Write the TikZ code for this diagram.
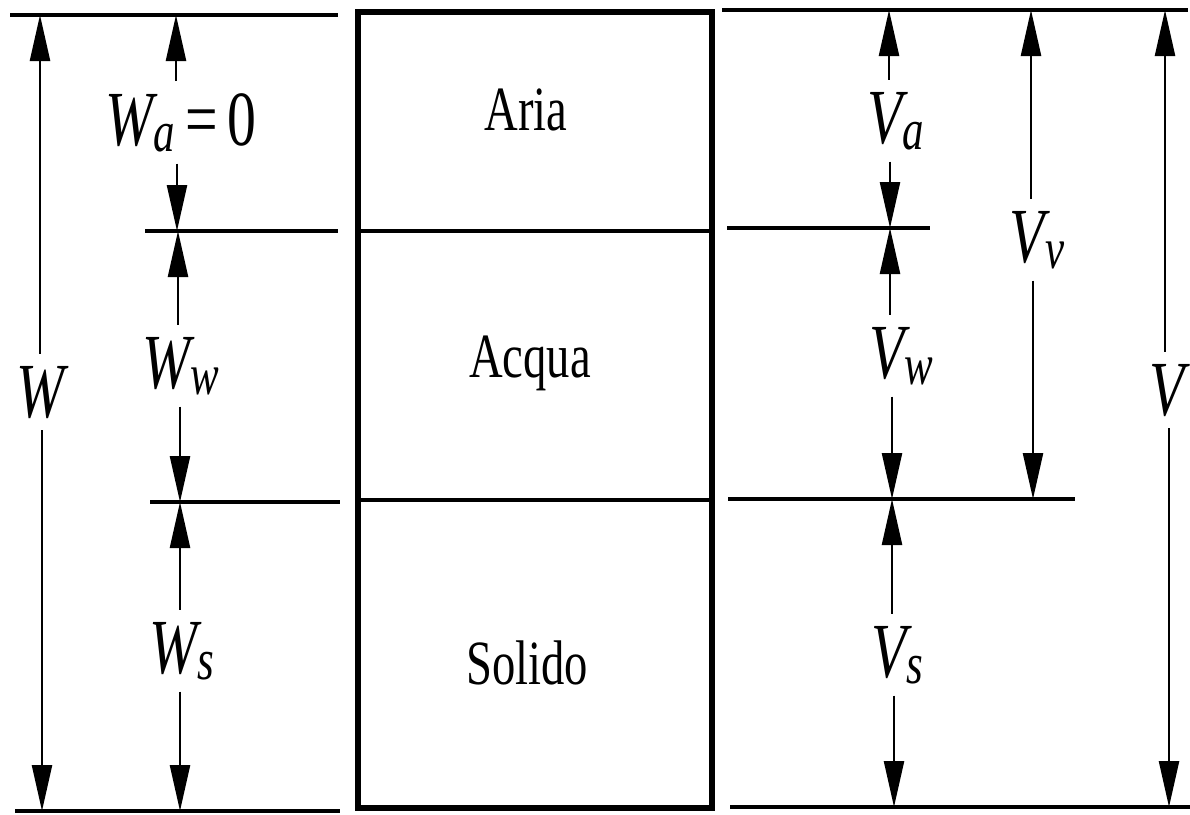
\documentclass[tikz,border=0pt]{standalone}
\usepackage{fontspec}
\setmainfont{Liberation Serif}
\usetikzlibrary{arrows.meta}
\newcommand\subsc[1]{\raisebox{-6pt}{\fontsize{58}{58}\selectfont #1}}
\newcommand\nsq[1]{\scalebox{0.74}[1]{#1}}
\begin{document}
\begin{tikzpicture}[x=1pt,y=-1pt,
  ext/.style={line width=3.8pt},
  boxline/.style={line width=6pt},
  sepline/.style={line width=4.2pt},
  dim/.style={line width=2.4pt,-{Triangle[length=46pt,width=20pt]}},
  dimlab/.style={inner sep=0pt,outer ysep=12pt,font=\fontsize{78}{80}\selectfont\itshape,anchor=base},
  phase/.style={inner sep=0pt,font=\fontsize{63}{66}\selectfont,anchor=base}]
\useasboundingbox (0,0) rectangle (1190,814);

% ---- soil column ----
\draw[boxline] (358,12) rectangle (712,808);
\draw[sepline] (358,231) -- (712,231);
\draw[sepline] (358,500) -- (712,500);
\node[phase] (aria) at (526,130) {\nsq{Aria}};
\node[phase] (acqua) at (530,377) {\nsq{Acqua}};
\node[phase] (solido) at (527,684) {\nsq{Solido}};

% ---- left extension lines ----
\coordinate (la1) at (10,15);  \coordinate (la2) at (338,15);
\coordinate (lb1) at (145,231); \coordinate (lb2) at (338,231);
\coordinate (lc1) at (150,502); \coordinate (lc2) at (340,502);
\coordinate (ld1) at (15,811);  \coordinate (ld2) at (340,811);
\draw[ext] (la1) -- (la2);
\draw[ext] (lb1) -- (lb2);
\draw[ext] (lc1) -- (lc2);
\draw[ext] (ld1) -- (ld2);

% ---- right extension lines ----
\coordinate (ra1) at (722,10);  \coordinate (ra2) at (1188,10);
\coordinate (rb1) at (727,228); \coordinate (rb2) at (930,228);
\coordinate (rc1) at (728,499); \coordinate (rc2) at (1075,499);
\coordinate (rd1) at (730,807); \coordinate (rd2) at (1190,807);
\draw[ext] (ra1) -- (ra2);
\draw[ext] (rb1) -- (rb2);
\draw[ext] (rc1) -- (rc2);
\draw[ext] (rd1) -- (rd2);

% ---- W ----
\coordinate (w1) at (40,15); \coordinate (w2) at (42,811);
\node[dimlab] (W) at (41,417) {\nsq{W}};
\draw[dim] (W.north -| w1) -- (w1);
\draw[dim] (W.south -| w2) -- (w2);

% ---- Wa ----
\coordinate (wa1) at (176,15); \coordinate (wa2) at (177,231);
\node[dimlab] (Wa) at (181,145) {\nsq{W\subsc{a}\,{\upshape =\,0}}};
\draw[dim] (Wa.north -| wa1) -- (wa1);
\draw[dim] (Wa.south -| wa2) -- (wa2);

% ---- Ww ----
\coordinate (ww1) at (178,231); \coordinate (ww2) at (180,502);
\node[dimlab] (Ww) at (181,388) {\nsq{W\subsc{w}}};
\draw[dim] (Ww.north -| ww1) -- (ww1);
\draw[dim] (Ww.south -| ww2) -- (ww2);

% ---- Ws ----
\coordinate (ws1) at (180,502); \coordinate (ws2) at (180,811);
\node[dimlab] (Ws) at (182,673) {\nsq{W\subsc{s}}};
\draw[dim] (Ws.north -| ws1) -- (ws1);
\draw[dim] (Ws.south -| ws2) -- (ws2);

% ---- Va ----
\coordinate (va1) at (889,10); \coordinate (va2) at (890,228);
\node[dimlab] (Va) at (896,143) {\nsq{V\subsc{a}}};
\draw[dim] (Va.north -| va1) -- (va1);
\draw[dim] (Va.south -| va2) -- (va2);

% ---- Vv ----
\coordinate (vv1) at (1031,10); \coordinate (vv2) at (1033,499);
\node[dimlab] (Vv) at (1037,262) {\nsq{V\subsc{v}}};
\draw[dim] (Vv.north -| vv1) -- (vv1);
\draw[dim] (Vv.south -| vv2) -- (vv2);

% ---- Vw ----
\coordinate (vw1) at (890,228); \coordinate (vw2) at (892,499);
\node[dimlab] (Vw) at (901,378) {\nsq{V\subsc{w}}};
\draw[dim] (Vw.north -| vw1) -- (vw1);
\draw[dim] (Vw.south -| vw2) -- (vw2);

% ---- Vs ----
\coordinate (vs1) at (892,499); \coordinate (vs2) at (894,807);
\node[dimlab] (Vs) at (897,677) {\nsq{V\subsc{s}}};
\draw[dim] (Vs.north -| vs1) -- (vs1);
\draw[dim] (Vs.south -| vs2) -- (vs2);

% ---- V ----
\coordinate (v1) at (1165,10); \coordinate (v2) at (1169,807);
\node[dimlab] (V) at (1167,415) {\nsq{V}};
\draw[dim] (V.north -| v1) -- (v1);
\draw[dim] (V.south -| v2) -- (v2);
\end{tikzpicture}
\end{document}
